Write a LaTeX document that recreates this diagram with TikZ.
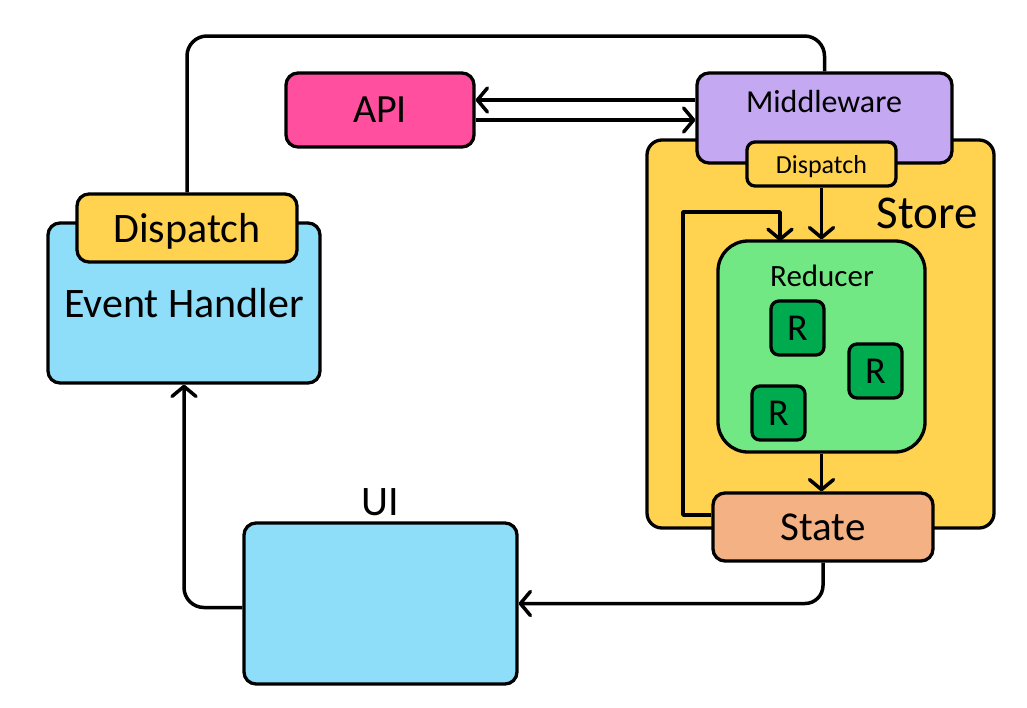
\documentclass[tikz,border=0pt]{standalone}
\usepackage{fontspec}
\setmainfont{Carlito}
\usetikzlibrary{arrows.meta}
\definecolor{skyfill}{HTML}{8EDEF9}
\definecolor{goldfill}{HTML}{FFD24F}
\definecolor{pinkfill}{HTML}{FF4F9E}
\definecolor{lavfill}{HTML}{C4A8F2}
\definecolor{mintfill}{HTML}{71E884}
\definecolor{leaffill}{HTML}{00AA4E}
\definecolor{salmonfill}{HTML}{F4B183}
\begin{document}
\begin{tikzpicture}[x=1pt,y=-1pt,
  box/.style={draw=black, line width=3.3pt, rounded corners=12pt, inner sep=0pt, text depth=0pt},
  conn/.style={line width=3.5pt, line join=round},
  arr/.style={conn, -{Straight Barb[length=10pt,width=24pt,line cap=round,line join=round]}},
  fs/.style={font=\fontsize{#1}{#1}\selectfont}]
\useasboundingbox (0,0) rectangle (1027,707);

% store and its parts
\node[box, rounded corners=15pt, fill=goldfill, minimum width=347pt, minimum height=388pt] (store) at (820.5,334) {};
\node[fs=47] (storet) at (927,213) {Store};
\node[box, fill=lavfill, minimum width=255pt, minimum height=90pt] (mw) at (824.5,118) {};
\node[fs=32] (mwt) at (824,102) {Middleware};
\node[box, rounded corners=8pt, fill=goldfill, minimum width=149pt, minimum height=44pt, fs=26] (mdisp) at (821.5,164) {Dispatch};
\node[box, rounded corners=30pt, fill=mintfill, minimum width=207pt, minimum height=211pt] (red) at (821.5,346.5) {};
\node[fs=31] (redt) at (822,276) {Reducer};
\node[box, rounded corners=8pt, fill=leaffill, minimum width=53pt, minimum height=54pt, fs=38] (r1) at (797.5,328) {R};
\node[box, rounded corners=8pt, fill=leaffill, minimum width=53pt, minimum height=54pt, fs=38] (r2) at (875.5,371) {R};
\node[box, rounded corners=8pt, fill=leaffill, minimum width=53pt, minimum height=54pt, fs=38] (r3) at (778.5,413) {R};
\node[box, fill=salmonfill, minimum width=220pt, minimum height=68pt, fs=41] (state) at (823,527) {State};

% feedback loop from the state back into the reducer
\coordinate (loopA) at (683,212);
\coordinate (loopB) at (780,241);
\draw[arr] ([yshift=12pt]state.west) -| (loopA) -| (loopB);

\draw[arr] (mdisp.south) -- (mdisp.south |- red.north);
\draw[arr] (red.south) -- (red.south |- state.north);

% API exchange
\node[box, fill=pinkfill, minimum width=188pt, minimum height=74pt, fs=40] (api) at (380,110) {API};
\draw[arr] ([yshift=10pt]api.east -| mw.west) -- ([yshift=10pt]api.east);
\draw[arr] ([yshift=-10pt]api.east) -- ([yshift=-10pt]api.east -| mw.west);

% event handler with its dispatch
\node[box, fill=skyfill, minimum width=272pt, minimum height=160pt, fs=42] (eh) at (184,303) {Event Handler};
\node[box, fill=goldfill, minimum width=220pt, minimum height=68pt, fs=42] (edisp) at (187,228) {Dispatch};

% user interface
\node[box, fill=skyfill, minimum width=273pt, minimum height=161pt] (ui) at (380.5,603.5) {};
\node[fs=42] (uit) at (380,502) {UI};

% outer connectors
\coordinate (topR) at (824.5,36);
\draw[conn, rounded corners=20pt] (edisp.north) |- (topR) -- (mw.north);
\draw[arr, rounded corners=18pt] (state.south) |- (ui.east);
\draw[arr, rounded corners=20pt] ([yshift=-4pt]ui.west) -| (eh.south);
\end{tikzpicture}
\end{document}
